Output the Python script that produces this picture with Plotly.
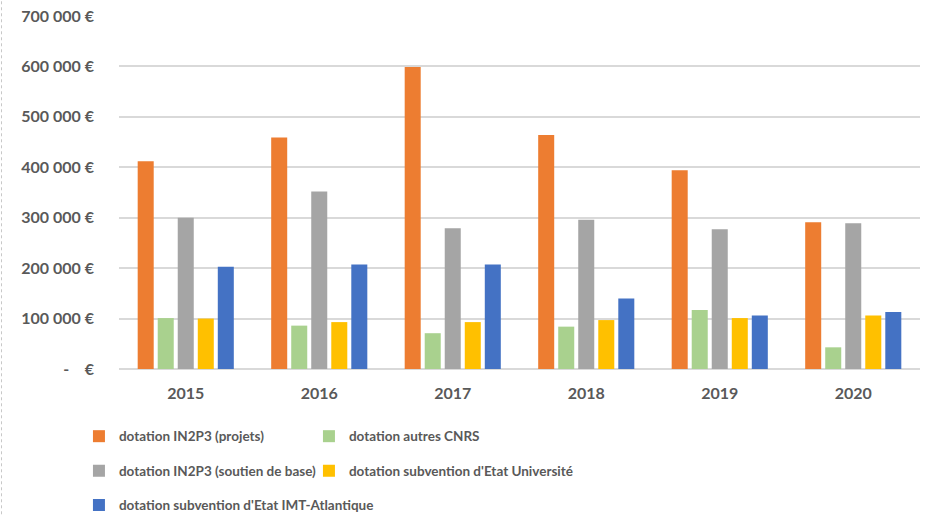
import plotly.graph_objects as go

years = ["2015", "2016", "2017", "2018", "2019", "2020"]
series_names = [
    "dotation IN2P3 (projets)",
    "dotation autres CNRS",
    "dotation IN2P3 (soutien de base)",
    "dotation subvention d'Etat Université",
    "dotation subvention d'Etat IMT-Atlantique",
]
in2p3_projets = [412000, 459000, 599000, 464000, 394000, 291000]
autres_cnrs = [101000, 86000, 71000, 84000, 117000, 43000]
in2p3_soutien = [300000, 352000, 279000, 296000, 277000, 289000]
etat_universite = [100000, 93000, 93000, 97000, 101000, 106000]
etat_imt = [203000, 207000, 207000, 140000, 106000, 113000]

tick_vals = [0, 100000, 200000, 300000, 400000, 500000, 600000, 700000]
tick_text = ["-\u00a0\u00a0\u00a0\u00a0€", "100 000 €", "200 000 €", "300 000 €",
             "400 000 €", "500 000 €", "600 000 €", "700 000 €"]

colors = ["#ED7D31", "#A9D18E", "#A5A5A5", "#FFC000", "#4472C4"]
values = [in2p3_projets, autres_cnrs, in2p3_soutien, etat_universite, etat_imt]
legend_ids = ["legend", "legend", "legend2", "legend2", "legend3"]
first_in_row = [True, False, True, False, False]

FONT = "Lato, sans-serif"
TXT = "#595959"

fig = go.Figure()
for name, vals, col, lg, first in zip(series_names, values, colors, legend_ids, first_in_row):
    kw = dict(legendwidth=185) if first else {}
    fig.add_trace(go.Bar(
        x=years, y=vals, name=name, legend=lg,
        marker=dict(color=col, line=dict(width=0)),
        **kw,
    ))

W, H = 930, 515
ml, mr, mt, mb = 119, 10, 16, 145.5
plot_h = H - mt - mb
plot_w = W - ml - mr


def legend_cfg(py):
    return dict(
        orientation="h",
        x=-0.05, xanchor="left",
        y=-(py - (H - mb)) / plot_h, yanchor="middle",
        font=dict(family=FONT, size=13.5, color=TXT, weight="bold"),
        bgcolor="rgba(0,0,0,0)",
        traceorder="normal",
    )


fig.update_layout(
    width=W, height=H,
    margin=dict(l=ml, r=mr, t=mt, b=mb, autoexpand=False),
    paper_bgcolor="white", plot_bgcolor="white",
    barmode="group", bargap=0.25, bargroupgap=0.2,
    font=dict(family=FONT, color=TXT),
    showlegend=True,
    legend=legend_cfg(437),
    legend2=legend_cfg(471.5),
    legend3=legend_cfg(506),
    xaxis=dict(
        showgrid=False, showline=False, zeroline=False,
        tickfont=dict(family=FONT, size=16, color=TXT, weight="bold"),
        ticklabelstandoff=13,
    ),
    yaxis=dict(
        range=[0, 700000],
        tickvals=tick_vals, ticktext=tick_text,
        showgrid=True, gridcolor="#D9D9D9", gridwidth=1.5,
        zeroline=True, zerolinecolor="#D9D9D9", zerolinewidth=1.5,
        showline=False,
        tickfont=dict(family=FONT, size=16, color=TXT, weight="bold"),
        ticklabelstandoff=24,
    ),
    shapes=[dict(
        type="line", xref="paper", yref="paper",
        x0=(1.5 - ml) / plot_w, x1=(1.5 - ml) / plot_w,
        y0=-mb / plot_h, y1=1 + mt / plot_h,
        line=dict(color="#C8C8C8", width=1, dash="dot"),
    )],
)

fig.write_html("out.html", config={"displayModeBar": False},
               post_script="document.body.style.margin='0px';")
